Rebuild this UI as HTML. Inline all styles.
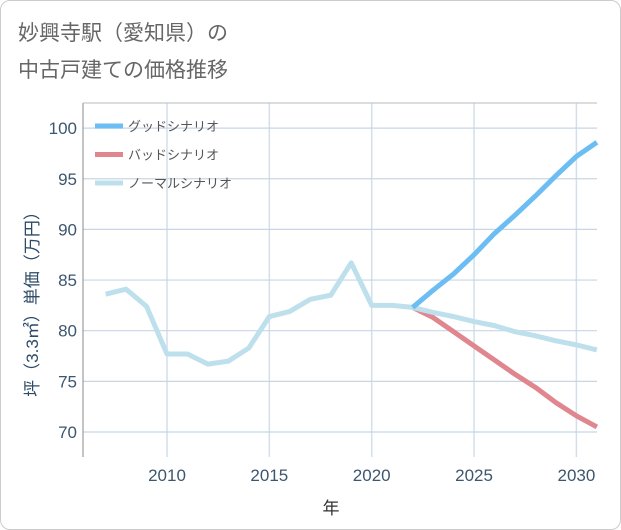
<!DOCTYPE html>
<html><head><meta charset="utf-8"><style>
body{margin:0;background:#fff;font-family:"Liberation Sans","Noto Sans CJK JP",sans-serif}
#wrap{position:absolute;left:0;top:0;width:619px;height:528px;border:1px solid #ccc;border-radius:10px;background:#fff}
</style></head><body>
<div id="wrap">
<svg id="chart" width="621" height="530" style="position:absolute;left:-1px;top:-1px">
<text x="18" y="40" font-size="21" fill="#666">妙興寺駅（愛知県）の</text>
<text x="18" y="77" font-size="21" fill="#666">中古戸建ての価格推移</text>
<g id="grid"></g><g id="series"></g><g id="axes"></g>
<text x="331" y="514" font-size="17" fill="#333" text-anchor="middle">年</text>
<text transform="translate(38,300) rotate(-90)" font-size="17" fill="#2d4a66" text-anchor="middle">坪（3.3㎡）単価（万円）</text>
</svg></div>
<script>
const years=[2007,2008,2009,2010,2011,2012,2013,2014,2015,2016,2017,2018,2019,2020,2021,2022,2023,2024,2025,2026,2027,2028,2029,2030,2031];
const normalVals=[83.6,84.1,82.4,77.7,77.7,76.7,77.0,78.3,81.4,81.9,83.1,83.5,86.7,82.5,82.5,82.3,81.8,81.4,80.9,80.5,79.9,79.5,79.0,78.6,78.1];
const goodYears=[2022,2023,2024,2025,2026,2027,2028,2029,2030,2031];
const goodVals=[82.3,84.0,85.6,87.5,89.6,91.4,93.3,95.3,97.2,98.6];
const badVals=[82.3,81.3,79.9,78.5,77.1,75.7,74.4,72.9,71.6,70.5];
const xTicks=[2010,2015,2020,2025,2030];
const yTicks=[70,75,80,85,90,95,100];
const legendLabels=["グッドシナリオ","バッドシナリオ","ノーマルシナリオ"];
const NS="http://www.w3.org/2000/svg";
const L=83,R=597,T=103,B=457;
const xs=y=>167+(y-2010)*20.47;
const ys=v=>432-(v-70)*10.13;
function mk(tag,attrs,parent){const e=document.createElementNS(NS,tag);for(const k in attrs)e.setAttribute(k,attrs[k]);parent.appendChild(e);return e;}
const grid=document.getElementById('grid'),ser=document.getElementById('series'),ax=document.getElementById('axes');
xTicks.forEach(t=>{const l=mk('line',{x1:xs(t),x2:xs(t),y1:T,y2:B,stroke:'#d3dfea','stroke-width':1.5},grid);


const tx=mk('text',{x:xs(t),y:481,'font-size':17,fill:'#3d566e','text-anchor':'middle'},ax);tx.textContent=t;

});
yTicks.forEach(t=>{const l=mk('line',{x1:L,x2:R,y1:ys(t),y2:ys(t),stroke:'#c8d6e4','stroke-width':1.2},grid);


const tx=mk('text',{x:77,y:ys(t)+6,'font-size':17,fill:'#3d566e','text-anchor':'end'},ax);tx.textContent=t;

});
const al=mk('line',{x1:L,x2:L,y1:T,y2:B,stroke:'#888','stroke-width':1},ax);


const tl=mk('line',{x1:L,x2:R,y1:T,y2:T,stroke:'#bbb','stroke-width':1},ax);


function line(xv,yv,color,name){const p=mk('polyline',{points:xv.map((x,i)=>xs(x)+','+ys(yv[i])).join(' '),fill:'none',stroke:color,'stroke-width':5,'stroke-linejoin':'round'},ser);

}
line(goodYears,badVals,'#e0868f','bad-scenario-line');
line(years,normalVals,'#bee0ed','normal-scenario-line');
line(goodYears,goodVals,'#6bbdf3','good-scenario-line');
const colors=['#6bbdf3','#e0868f','#bee0ed'];
legendLabels.forEach((lb,i)=>{const y=126+i*28.5;const g=mk('g',{},ax);


mk('line',{x1:95,x2:123,y1:y,y2:y,stroke:colors[i],'stroke-width':5},g);
const t=mk('text',{x:128,y:y+5,'font-size':13,fill:'#555'},g);t.textContent=lb;});
</script></body></html>
